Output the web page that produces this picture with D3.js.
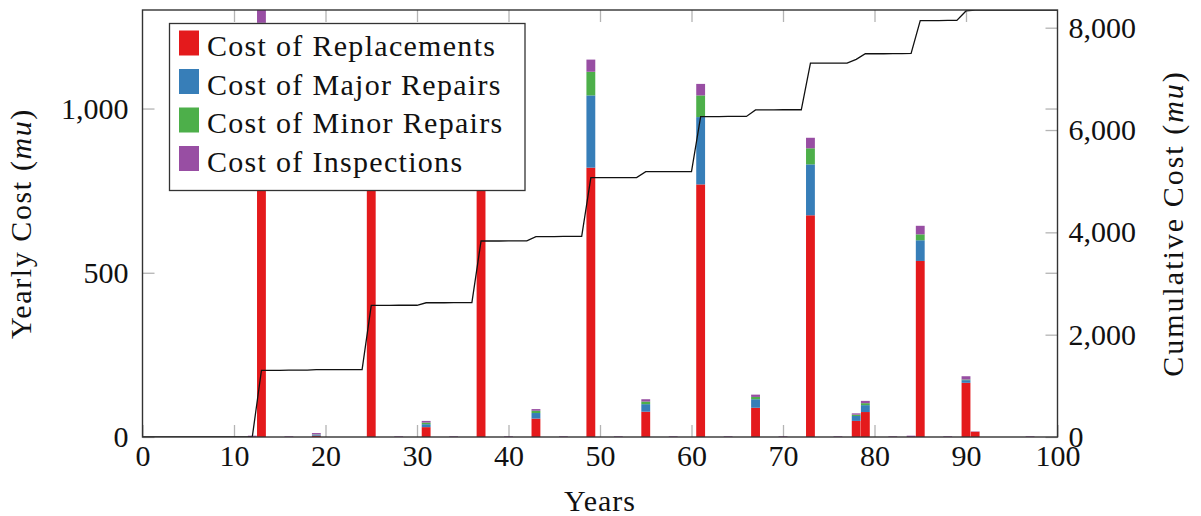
<!DOCTYPE html>
<html>
<head>
<meta charset="utf-8">
<script src="https://cdn.jsdelivr.net/npm/d3@7"></script>
<style>
  body { margin: 0; background: #fff; }
  svg text { font-family: "Liberation Serif", "DejaVu Serif", serif; fill: #111; }
</style>
</head>
<body>
<svg id="chart" width="1201" height="516"></svg>
<script>
// YEARS WITH A NON ZERO COST
var years = [12, 13, 16, 19, 25, 28, 31, 34, 37, 40, 43, 46, 49, 52, 55, 58, 61, 64, 67, 70, 73, 76, 78, 79, 82, 84, 85, 88, 90, 91, 97];
var replacements = [0, 1195, 0, 4, 1100, 0, 30, 0, 1060, 0, 56, 0, 820, 0, 77, 0, 769, 0, 89, 0, 675, 0, 49, 76, 0, 0, 536, 0, 165, 16, 0];
var majorRepairs = [0, 48, 0, 3, 90, 0, 9, 0, 85, 0, 17, 0, 220, 0, 23, 0, 205, 0, 26, 0, 155, 0, 15, 21, 0, 0, 63, 0, 8, 0, 0];
var minorRepairs = [0, 18, 0, 1, 35, 0, 5, 0, 32, 0, 7, 0, 72, 0, 8, 0, 66, 0, 7, 0, 49, 0, 4, 6, 0, 0, 18, 0, 2, 0, 0];
var inspections = [4, 39, 2, 4, 30, 2, 5, 2, 28, 2, 5, 2, 37, 2, 7, 2, 35, 2, 7, 2, 32, 2, 4, 7, 2, 4, 26, 2, 10, 1, 2];

var seriesNames = ["Cost of Replacements", "Cost of Major Repairs", "Cost of Minor Repairs", "Cost of Inspections"];
var seriesKeys = ["replacements", "major", "minor", "inspections"];
var seriesColors = ["#e41a1c", "#377eb8", "#4daf4a", "#984ea3"];

var xTicks = [0, 10, 20, 30, 40, 50, 60, 70, 80, 90, 100];
var yTicks = [0, 500, 1000];
var y2Ticks = [0, 2000, 4000, 6000, 8000];

drawChart();

function drawChart() {
  var plotLeft = 142.5, plotRight = 1057.5, plotTop = 10, plotBottom = 437;

  var svg = d3.select("#chart");

  var rows = years.map(function (yr, i) {
    return {
      year: yr,
      replacements: replacements[i],
      major: majorRepairs[i],
      minor: minorRepairs[i],
      inspections: inspections[i]
    };
  });

  // CUMULATIVE COST FOR EVERY YEAR 0..100
  var allYears = d3.range(0, 101);
  var yearly = allYears.map(function (yr) {
    var r = rows.find(function (d) { return d.year == yr; });
    return r ? r.replacements + r.major + r.minor + r.inspections : 0;
  });
  var cumulative = Array.from(d3.cumsum(yearly));

  var x = d3.scaleLinear().domain([0, 100]).range([plotLeft, plotRight]);
  var y = d3.scaleLinear().domain([0, 1300]).range([plotBottom, plotTop]);
  var y2 = d3.scaleLinear().domain([0, d3.max(cumulative)]).range([plotBottom, plotTop]);

  svg.append("clipPath").attr("id", "plotclip")
    .append("rect")
    .attr("x", plotLeft).attr("y", plotTop)
    .attr("width", plotRight - plotLeft).attr("height", plotBottom - plotTop);

  // TICKS (INWARD, GREY)
  function styleTicks(g, showLabels) {
    g.select(".domain").remove();
    g.selectAll(".tick line").attr("stroke", "#b4b4b4").attr("stroke-width", 1.3);
    g.selectAll(".tick text").attr("font-size", 30).attr("fill", "#111")
      .attr("font-family", "Liberation Serif");
    if (!showLabels) g.selectAll(".tick text").remove();
  }

  svg.append("g").attr("transform", "translate(0," + plotBottom + ")")
    .call(d3.axisBottom(x).tickValues(xTicks).tickSize(-12).tickPadding(8))
    .call(styleTicks, true);

  svg.append("g").attr("transform", "translate(0," + plotTop + ")")
    .call(d3.axisTop(x).tickValues(xTicks.slice(1, -1)).tickSize(-12))
    .call(styleTicks, false);

  svg.append("g").attr("transform", "translate(" + plotLeft + ",0)")
    .call(d3.axisLeft(y).tickValues(yTicks).tickSize(-12).tickPadding(14).tickFormat(d3.format(",")))
    .call(styleTicks, true);

  svg.append("g").attr("transform", "translate(" + plotRight + ",0)")
    .call(d3.axisRight(y).tickValues(yTicks.slice(1)).tickSize(-12))
    .call(styleTicks, false);

  svg.append("g").attr("transform", "translate(" + plotRight + ",0)")
    .call(d3.axisRight(y2).tickValues(y2Ticks).tickSize(-12).tickPadding(11).tickFormat(d3.format(",")))
    .call(styleTicks, true);

  // STACKED BARS
  var stacked = d3.stack().keys(seriesKeys)(rows);
  var barWidth = x(1) - x(0) - 0.3;

  var bars = svg.append("g").attr("clip-path", "url(#plotclip)");
  bars.selectAll("g")
    .data(stacked)
    .enter()
    .append("g")
    .attr("fill", function (d, i) { return seriesColors[i]; })
    .selectAll("rect")
    .data(function (d) { return d; })
    .enter()
    .append("rect")
    .attr("x", function (d) { return x(d.data.year) - barWidth / 2; })
    .attr("y", function (d) { return y(d[1]); })
    .attr("width", barWidth)
    .attr("height", function (d) { return Math.max(0, y(d[0]) - y(d[1])); });

  // CUMULATIVE LINE
  var line = d3.line()
    .x(function (d, i) { return x(allYears[i]); })
    .y(function (d) { return y2(d); });

  svg.append("path")
    .datum(cumulative)
    .attr("clip-path", "url(#plotclip)")
    .attr("d", line)
    .attr("fill", "none")
    .attr("stroke", "#111")
    .attr("stroke-width", 1.3);

  // FRAME
  svg.append("rect")
    .attr("x", plotLeft).attr("y", plotTop)
    .attr("width", plotRight - plotLeft).attr("height", plotBottom - plotTop)
    .attr("fill", "none")
    .attr("stroke", "#333")
    .attr("stroke-width", 1.4);

  // LEGEND
  var legend = svg.append("g");
  legend.append("rect")
    .attr("x", 169.5).attr("y", 23.5)
    .attr("width", 355.5).attr("height", 167)
    .attr("fill", "#fff")
    .attr("stroke", "#333")
    .attr("stroke-width", 1.3);

  seriesNames.forEach(function (name, i) {
    var ry = 30.5 + i * 38.5;
    legend.append("rect")
      .attr("x", 179).attr("y", ry)
      .attr("width", 20).attr("height", 25)
      .attr("fill", seriesColors[i]);
    legend.append("text")
      .attr("x", 207).attr("y", ry + 25.5)
      .attr("font-size", 30)
      .attr("letter-spacing", 1.3)
      .text(name);
  });

  // AXIS TITLES
  svg.append("text")
    .attr("x", (plotLeft + plotRight) / 2).attr("y", 511)
    .attr("text-anchor", "middle")
    .attr("font-size", 30)
    .attr("letter-spacing", 1)
    .text("Years");

  var t1 = svg.append("text")
    .attr("transform", "translate(31," + (plotTop + plotBottom) / 2 + ") rotate(-90)")
    .attr("text-anchor", "middle")
    .attr("font-size", 30)
    .attr("letter-spacing", 1.6);
  t1.append("tspan").text("Yearly Cost (");
  t1.append("tspan").attr("font-style", "italic").text("mu");
  t1.append("tspan").text(")");

  var t2 = svg.append("text")
    .attr("transform", "translate(1183," + (plotTop + plotBottom) / 2 + ") rotate(-90)")
    .attr("text-anchor", "middle")
    .attr("font-size", 30)
    .attr("letter-spacing", 2);
  t2.append("tspan").text("Cumulative Cost (");
  t2.append("tspan").attr("font-style", "italic").text("mu");
  t2.append("tspan").text(")");
}
</script>
</body>
</html>
